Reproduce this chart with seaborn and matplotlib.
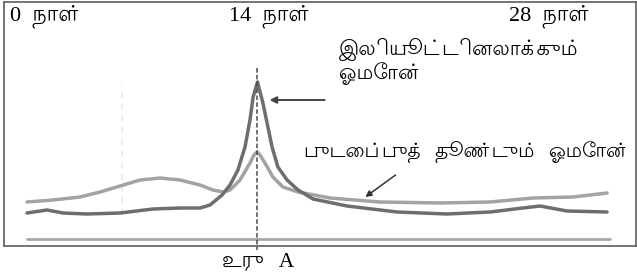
import matplotlib
matplotlib.use("Agg")
import matplotlib.pyplot as plt
import seaborn as sns
import pandas as pd

# ---- data (x in cycle-days of the drawing, y = hormone level, arbitrary units) ----
lh_day = [0.0, 0.96, 1.73, 2.88, 4.47, 6.05, 7.35, 8.31, 8.79, 9.37, 9.75,
          10.13, 10.47, 10.71, 10.86, 11.07, 11.33, 11.53, 11.77, 12.05, 12.49,
          13.02, 13.74, 15.37, 17.77, 20.17, 22.24, 23.82, 24.64, 25.93, 27.86]
lh_level = [37, 40, 37, 36, 37, 41, 42, 42, 45, 55, 65,
            80, 103, 130, 153, 168, 147, 127, 103, 83, 70,
            60, 51, 44, 38, 36, 38, 42, 44, 39, 38]

fsh_day = [0.0, 1.25, 2.55, 3.51, 4.47, 5.43, 6.39, 7.35, 8.31, 8.93, 9.41,
           9.75, 10.23, 10.71, 10.90, 11.05, 11.19, 11.43, 11.81, 12.29, 13.02,
           14.55, 16.95, 19.84, 22.24, 24.30, 26.22, 27.86]
fsh_level = [48, 50, 53, 58, 64, 70, 72, 70, 65, 60, 58,
             60, 70, 87, 95, 98, 95, 87, 73, 63, 58,
             52, 48, 47, 48, 52, 53, 57]

base_day = [0.0, 28.0]
base_level = [11, 11]

ovulation_day = 11.05
early_day = 4.56

day_labels = ["0  நாள்", "14  நாள்", "28  நாள்"]
lh_label = "இலியூட்டினலாக்கும்\nஓமோன்"
fsh_label = "புடைப்புத்  தூண்டும்  ஓமோன்"
fig_label = "உரு   A"

sns.set_theme(style="white")
plt.rcParams['font.family'] = ['Lohit Tamil', 'DejaVu Sans']

fig = plt.figure(figsize=(6.37, 2.77), dpi=100)
ax = fig.add_axes([4/637, 31/277, 632/637, 244/277])

lh = pd.DataFrame({"day": lh_day, "level": lh_level})
fsh = pd.DataFrame({"day": fsh_day, "level": fsh_level})
base = pd.DataFrame({"day": base_day, "level": base_level})

# faint background guide
ax.axvline(early_day, ymin=(250-215-4)/244, ymax=(250-85-4)/244,
           color="#ebebeb", lw=1.2, ls=(0, (4, 3)), zorder=1)

sns.lineplot(data=base, x="day", y="level", ax=ax, color="#a8a8a8", lw=2.0,
             sort=False, zorder=2)
sns.lineplot(data=fsh, x="day", y="level", ax=ax, color="#a3a3a3", lw=2.5,
             sort=False, zorder=3)
sns.lineplot(data=lh, x="day", y="level", ax=ax, color="#6e6e6e", lw=2.5,
             sort=False, zorder=4)

# ovulation dashed line
ax.plot([ovulation_day, ovulation_day], [182, 0], color="#4a4a4a", lw=1.1,
        ls=(0, (3, 1.5)), zorder=5, clip_on=False)

ax.set_xlim(-1.105, 29.249)
ax.set_ylim(4, 248)
ax.set_xticks([])
ax.set_yticks([])
ax.set_xlabel("")
ax.set_ylabel("")
for s in ax.spines.values():
    s.set_visible(True)
    s.set_color("#6a6a6a")
    s.set_linewidth(1.3)

serif_tamil = ['Liberation Serif', 'Lohit Tamil']
ax.text(0.009, 0.99, day_labels[0], transform=ax.transAxes, ha="left", va="top",
        fontsize=16, family=serif_tamil, color="black")
ax.text(0.421, 0.99, day_labels[1], transform=ax.transAxes, ha="center", va="top",
        fontsize=16, family=serif_tamil, color="black")
ax.text(0.864, 0.99, day_labels[2], transform=ax.transAxes, ha="center", va="top",
        fontsize=16, family=serif_tamil, color="black")

ax.text(15.0, 212, lh_label, ha="left", va="top", fontsize=15,
        linespacing=1.05, color="black")
ax.text(13.3, 98, fsh_label, ha="left", va="center", fontsize=14.5, color="black")
ax.text(11.1, -2, fig_label, ha="center", va="top", fontsize=15.5,
        family=serif_tamil, color="black", clip_on=False)

ax.annotate("", xy=(11.65, 150), xytext=(14.3, 150),
            arrowprops=dict(arrowstyle="-|>", color="#444444", lw=1.4,
                            mutation_scale=10, shrinkA=0, shrinkB=0))
ax.annotate("", xy=(16.25, 53), xytext=(17.7, 75),
            arrowprops=dict(arrowstyle="-|>", color="#333333", lw=1.1,
                            mutation_scale=9, shrinkA=0, shrinkB=0))

fig.savefig("out.png", dpi=100)
